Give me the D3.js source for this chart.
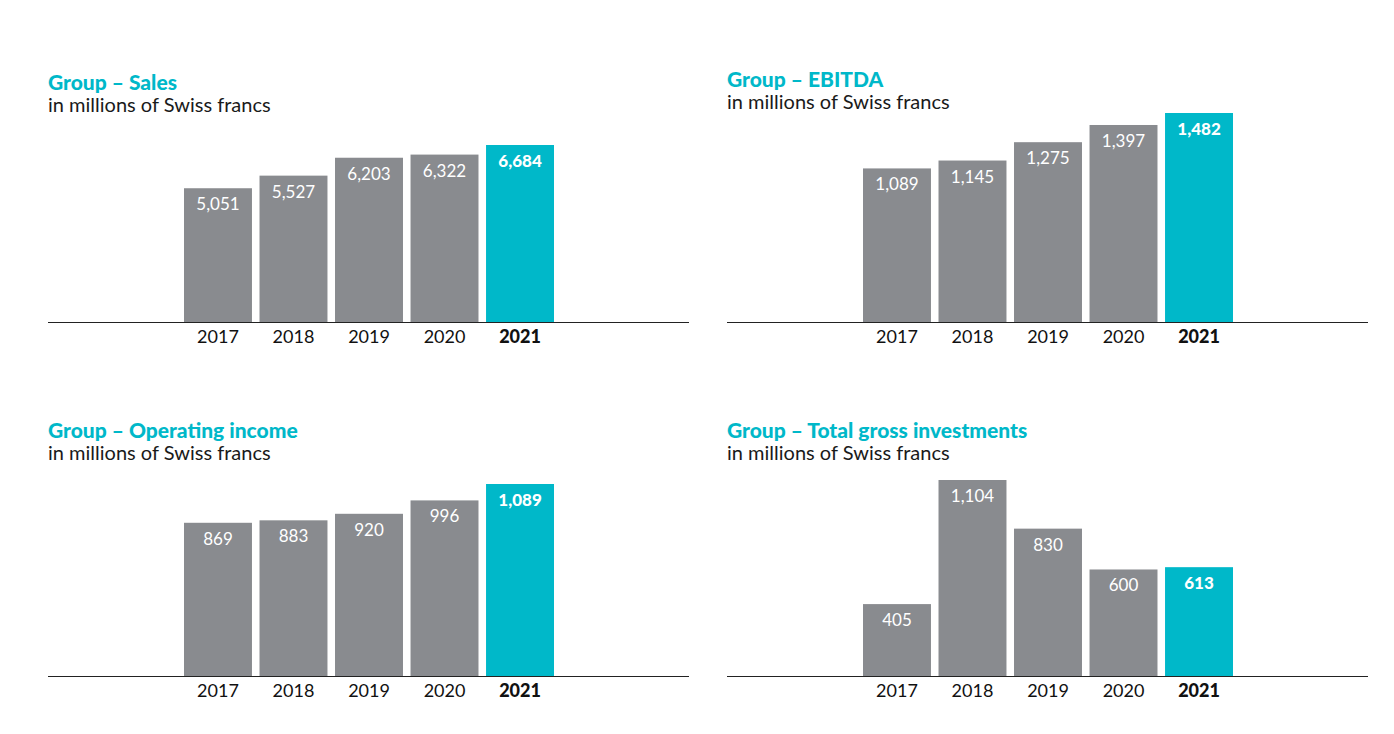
<!DOCTYPE html>
<html>
<head>
<meta charset="utf-8">
<script src="https://cdn.jsdelivr.net/npm/d3@7"></script>
<style>
  body { margin: 0; background: #fff; }
  svg { display: block; font-family: Lato, "Open Sans", sans-serif; }
</style>
</head>
<body>
<svg id="chart" width="1394" height="734"></svg>
<script>
// Data
var years = ["2017", "2018", "2019", "2020", "2021"];
var sales = [5051, 5527, 6203, 6322, 6684];
var ebitda = [1089, 1145, 1275, 1397, 1482];
var operatingIncome = [869, 883, 920, 996, 1089];
var grossInvestments = [405, 1104, 830, 600, 613];
var titles = ["Group – Sales", "Group – EBITDA", "Group – Operating income", "Group – Total gross investments"];
var subtitle = "in millions of Swiss francs";

// Colours
var grey = "#898b8f";
var cyan = "#00b8c9";

// Panel layout
var panels = [
  { values: sales, title: titles[0], x: 48, titleY: 90, base: 322, maxH: 177 },
  { values: ebitda, title: titles[1], x: 727, titleY: 87, base: 322, maxH: 209 },
  { values: operatingIncome, title: titles[2], x: 48, titleY: 438, base: 676, maxH: 192 },
  { values: grossInvestments, title: titles[3], x: 727, titleY: 438, base: 676, maxH: 196 }
];
var panelW = 641;
var fmt = d3.format(",");
var last = years[years.length - 1];

var svg = d3.select("#chart");

panels.forEach(function (p) {
  var g = svg.append("g").attr("transform", "translate(" + p.x + ",0)");

  // Scales
  var x = d3.scaleBand().domain(years).range([136, 506]).paddingInner(0.1);
  var y = d3.scaleLinear().domain([0, d3.max(p.values)]).range([p.base, p.base - p.maxH]);

  // Titles
  g.append("text").attr("x", 0).attr("y", p.titleY)
    .style("font-size", "21px").style("font-weight", "900").style("fill", cyan)
    .text(p.title);
  g.append("text").attr("x", 0).attr("y", p.titleY + 22)
    .style("font-size", "20px").style("fill", "#1a1a1a")
    .text(subtitle);

  var rows = years.map(function (yr, i) { return { year: yr, value: p.values[i] }; });

  // Bars
  g.selectAll("rect.bar").data(rows).enter().append("rect")
    .attr("class", "bar")
    .attr("x", function (d) { return x(d.year); })
    .attr("y", function (d) { return y(d.value); })
    .attr("width", x.bandwidth())
    .attr("height", function (d) { return p.base - y(d.value); })
    .style("fill", function (d) { return d.year === last ? cyan : grey; });

  // Value labels
  g.selectAll("text.val").data(rows).enter().append("text")
    .attr("class", "val")
    .attr("x", function (d) { return x(d.year) + x.bandwidth() / 2; })
    .attr("y", function (d) { return y(d.value) + 22; })
    .attr("text-anchor", "middle")
    .style("font-size", "17px").style("fill", "#fff")
    .style("font-weight", function (d) { return d.year === last ? "900" : "normal"; })
    .text(function (d) { return fmt(d.value); });

  // Baseline
  g.append("line").attr("x1", 0).attr("x2", panelW)
    .attr("y1", p.base + 0.5).attr("y2", p.base + 0.5)
    .style("stroke", "#222").style("stroke-width", 1);

  // Year labels
  var axis = d3.axisBottom(x).tickSize(0).tickPadding(0);
  var ax = g.append("g").attr("transform", "translate(0," + p.base + ")").call(axis);
  ax.select(".domain").remove();
  ax.selectAll("text")
    .attr("dy", null).attr("y", 21)
    .style("font-family", "Lato, 'Open Sans', sans-serif")
    .style("font-size", "18px").style("fill", "#111")
    .style("font-weight", function (d) { return d === last ? "900" : "normal"; });
});
</script>
</body>
</html>
